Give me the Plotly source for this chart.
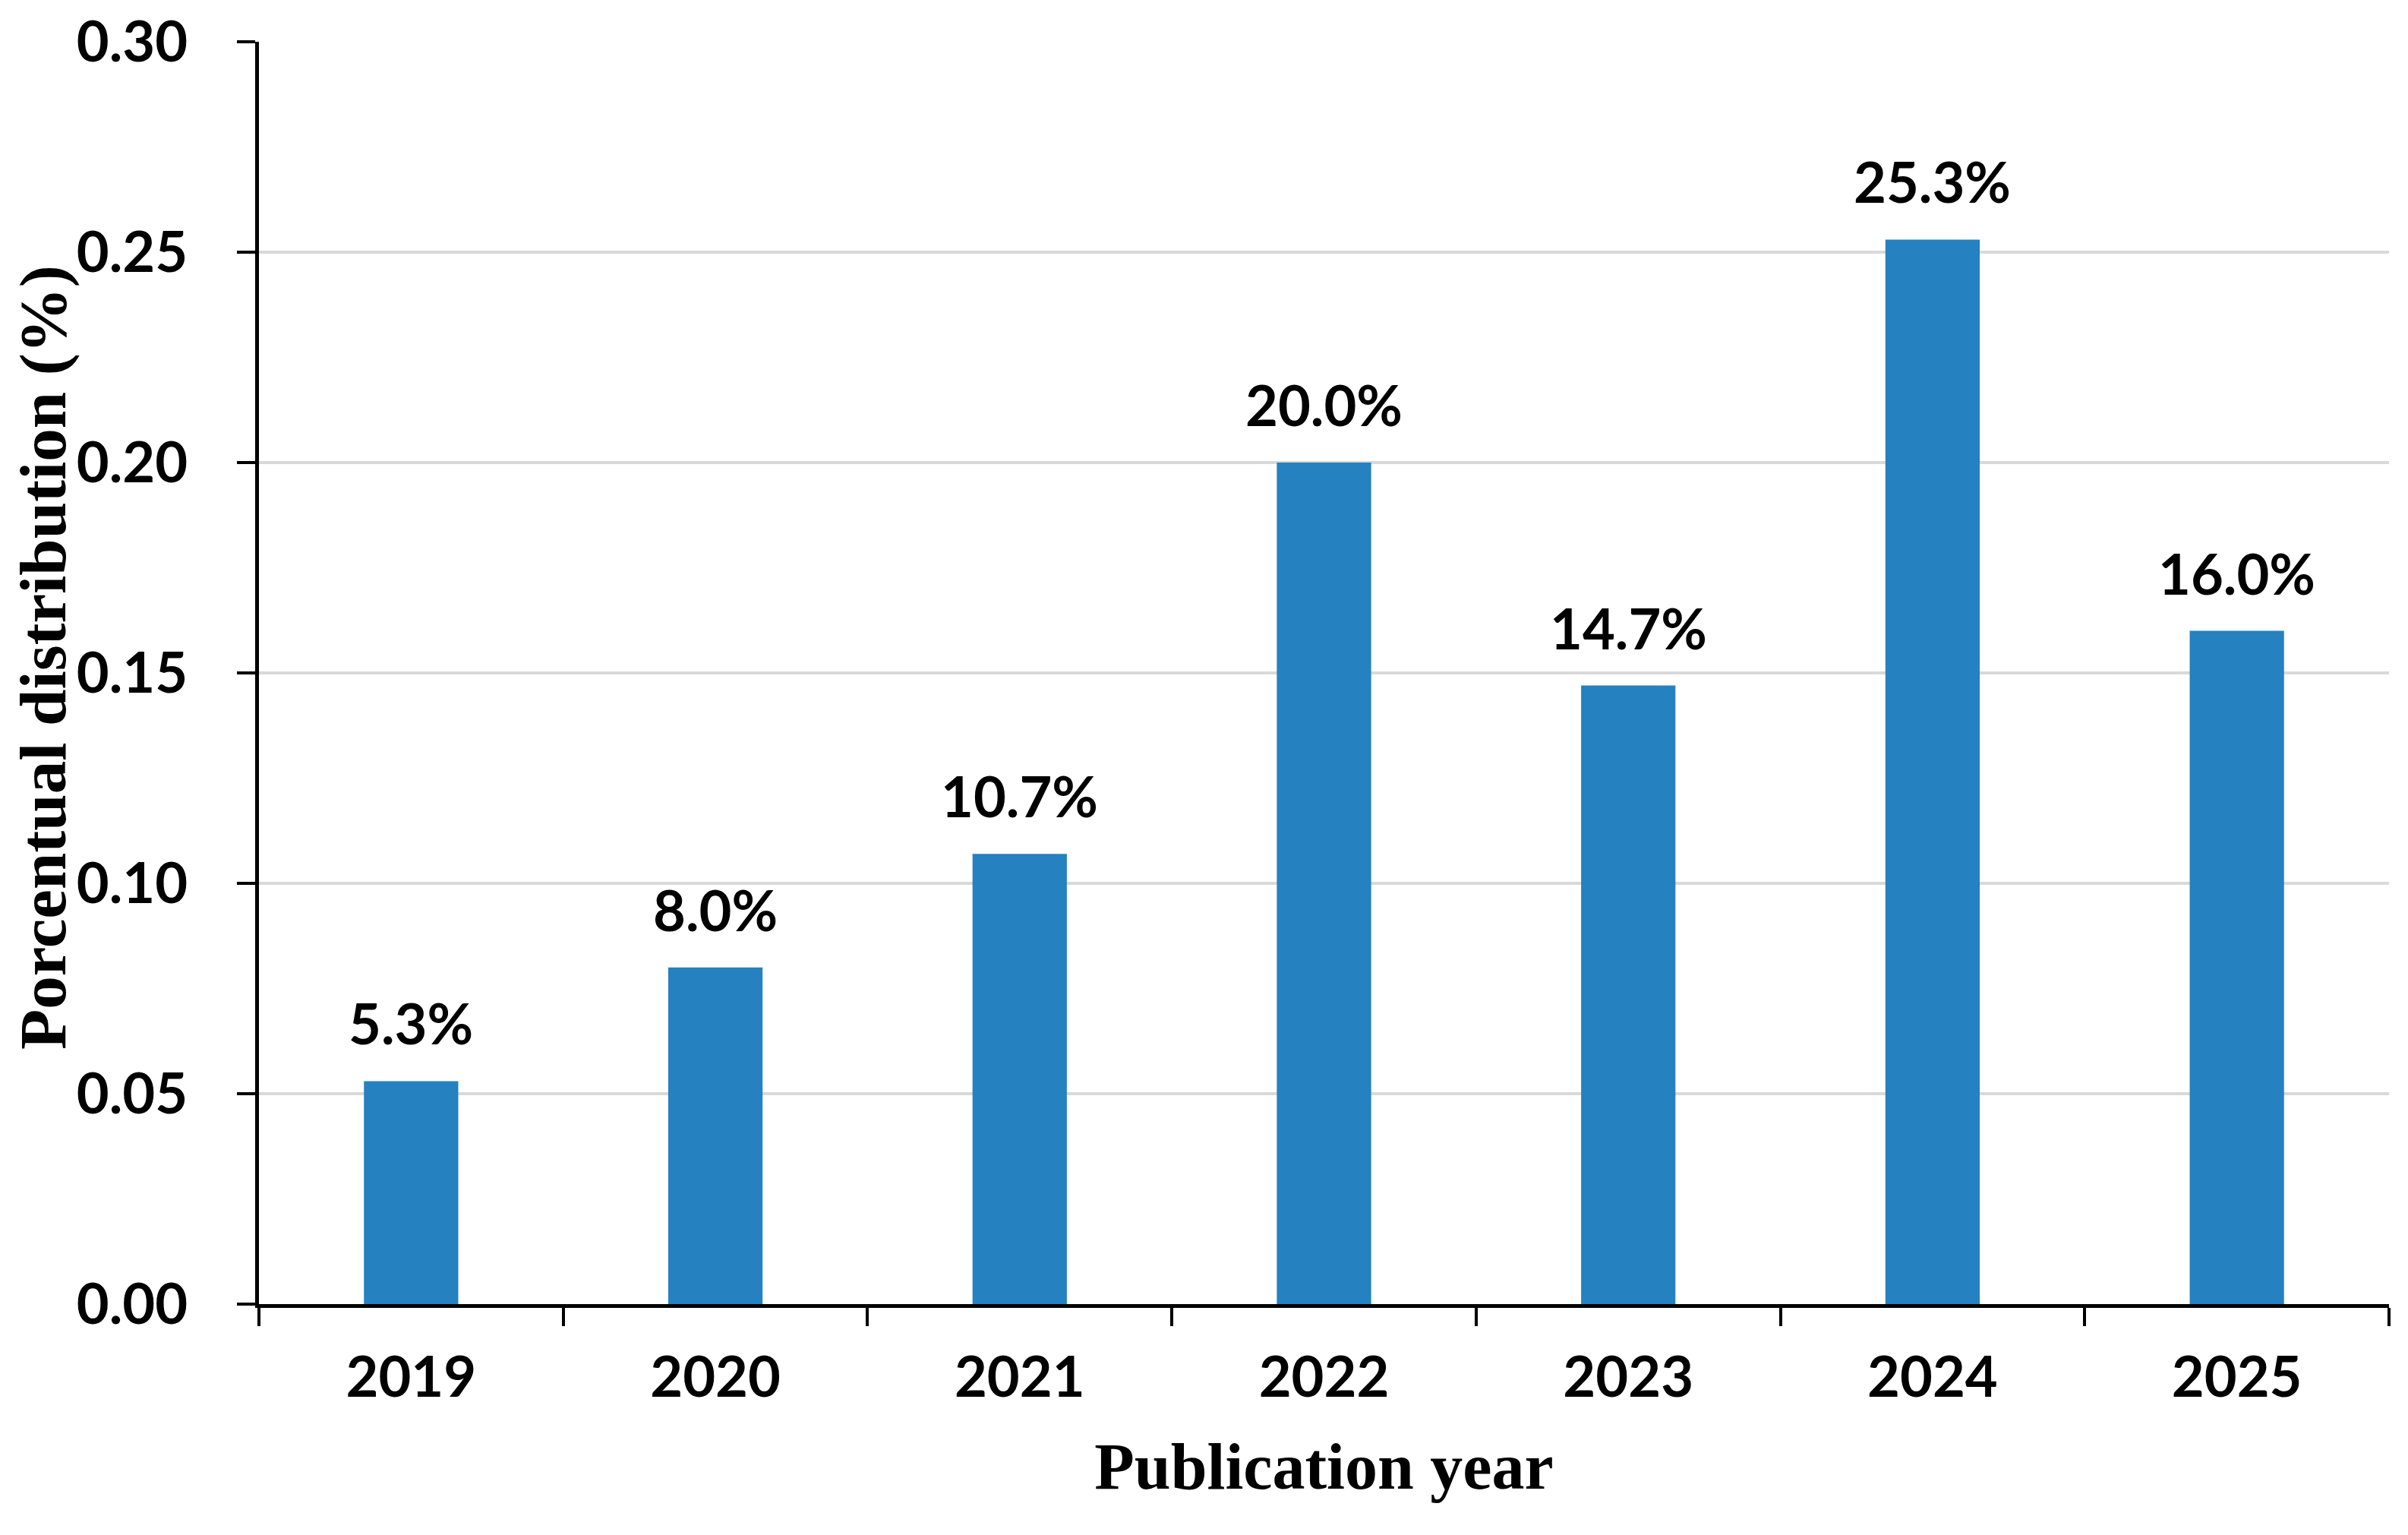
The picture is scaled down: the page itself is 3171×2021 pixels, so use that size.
import plotly.graph_objects as go

years = ["2019", "2020", "2021", "2022", "2023", "2024", "2025"]
shares = [0.053, 0.080, 0.107, 0.200, 0.147, 0.253, 0.160]
y_ticks = [0.00, 0.05, 0.10, 0.15, 0.20, 0.25, 0.30]
y_tick_text = ["0.00", "0.05", "0.10", "0.15", "0.20", "0.25", "0.30"]
labels = [f"{v*100:.1f}%" for v in shares]
y_title = "Porcentual distribution (%)"
x_title = "Publication year"

BAR = "#2581BF"
SANS = "Lato, Open Sans, sans-serif"
SERIF = "Liberation Serif, Times New Roman, serif"

fig = go.Figure()
fig.add_trace(go.Bar(x=years, y=shares, marker=dict(color=BAR, line=dict(width=0)),
                     hoverinfo="skip"))

for i, (v, t) in enumerate(zip(shares, labels)):
    fig.add_annotation(x=i, y=v, xref="x", yref="y", text=t, showarrow=False,
                       yanchor="bottom", yshift=30,
                       font=dict(family=SANS, size=74, color="black", weight="bold"))

fig.add_annotation(x=0, y=0.5, xref="paper", yref="paper", text=y_title,
                   textangle=-90, showarrow=False, xanchor="center", yanchor="middle",
                   xshift=-285, yshift=20,
                   font=dict(family=SERIF, size=87, color="black", weight="bold"))

fig.update_layout(
    width=3163, height=2013,
    margin=dict(l=333, r=25, t=47, b=304),
    paper_bgcolor="white", plot_bgcolor="white",
    bargap=0.69, showlegend=False,
)
fig.update_xaxes(
    type="category", categoryorder="array", categoryarray=years,
    range=[-0.5, 6.5], tickson="boundaries", ticks="outside", ticklen=24, tickwidth=4,
    tickcolor="black", showline=True, linecolor="black", linewidth=5,
    showgrid=False, ticklabelstandoff=28, tickangle=0, automargin=False,
    tickfont=dict(family=SANS, size=74, color="black", weight="bold"),
    title=dict(text=x_title, standoff=48,
               font=dict(family=SERIF, size=86, color="black", weight="bold")),
)
fig.update_yaxes(
    range=[0, 0.30], tickvals=y_ticks, ticktext=y_tick_text,
    ticks="outside", ticklen=24, tickwidth=4, tickcolor="black",
    showline=True, linecolor="black", linewidth=5,
    showgrid=True, gridcolor="#D9D9D9", gridwidth=4, zeroline=False,
    ticklabelstandoff=50, ticklabeloverflow="allow", automargin=False,
    tickfont=dict(family=SANS, size=74, color="black", weight="bold"),
)

fig.write_html("out.html")
